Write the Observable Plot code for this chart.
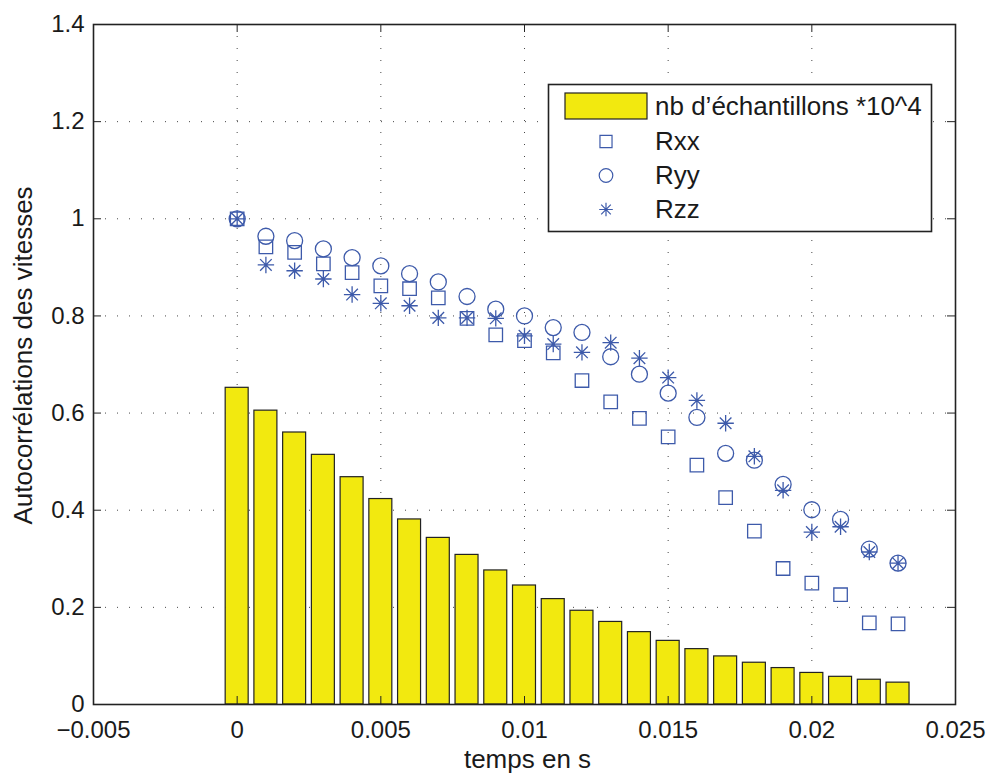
<!DOCTYPE html>
<html>
<head>
<meta charset="utf-8">
<script src="https://cdn.jsdelivr.net/npm/d3@7"></script>
<script src="https://cdn.jsdelivr.net/npm/@observablehq/plot@0.6"></script>
<style>
  html, body { margin: 0; padding: 0; background: #fff; }
  #wrap { position: relative; width: 990px; height: 773px; font-family: "Liberation Sans", Arial, Helvetica, sans-serif; color: #1a1a1a; }
  #legend { position: absolute; left: 0; top: 0; overflow: visible; }
</style>
</head>
<body>
<div id="wrap"></div>
<script>
// ---- data ----
const lags = [0, 0.001, 0.002, 0.003, 0.004, 0.005, 0.006, 0.007, 0.008, 0.009, 0.010, 0.011,
              0.012, 0.013, 0.014, 0.015, 0.016, 0.017, 0.018, 0.019, 0.020, 0.021, 0.022, 0.023];
const nbEchantillons = [0.652, 0.605, 0.560, 0.514, 0.468, 0.423, 0.381, 0.343, 0.308, 0.276, 0.245, 0.217,
                        0.193, 0.170, 0.149, 0.131, 0.114, 0.099, 0.086, 0.075, 0.065, 0.057, 0.051, 0.045];
const Rxx = [1.000, 0.942, 0.931, 0.907, 0.889, 0.862, 0.856, 0.837, 0.795, 0.761, 0.749, 0.724,
             0.667, 0.623, 0.589, 0.551, 0.493, 0.426, 0.357, 0.280, 0.250, 0.226, 0.168, 0.166];
const Ryy = [1.000, 0.964, 0.955, 0.938, 0.920, 0.903, 0.887, 0.870, 0.840, 0.814, 0.800, 0.776,
             0.766, 0.716, 0.680, 0.641, 0.591, 0.517, 0.503, 0.453, 0.401, 0.381, 0.320, 0.291];
const Rzz = [1.000, 0.905, 0.893, 0.876, 0.844, 0.826, 0.821, 0.796, 0.796, 0.795, 0.759, 0.742,
             0.725, 0.745, 0.713, 0.673, 0.626, 0.579, 0.511, 0.441, 0.355, 0.366, 0.314, 0.291];
const xTicks = [-0.005, 0, 0.005, 0.01, 0.015, 0.02, 0.025];
const yTicks = [0, 0.2, 0.4, 0.6, 0.8, 1, 1.2, 1.4];
const xLabel = "temps en s";
const yLabel = "Autocorrélations des vitesses";
const legendLabels = ["nb d\u2019échantillons *10^4", "Rxx", "Ryy", "Rzz"];

// ---- styles ----
const BLUE = "#3d5aaa";
const YELLOW = "#f2e90f";
const INK = "#222";
const FONT = '"Liberation Sans", Arial, Helvetica, sans-serif';
const W = 990, H = 773;
const mL = 93, mR = 35, mT = 24, mB = 69;
const frameW = W - mL - mR, frameH = H - mT - mB;
const tickLen = 8;
const barHalf = 0.0004; // bar width 0.8 of lag step

const barData = lags.map((t, i) => ({t, n: nbEchantillons[i]}));
const sData = (arr) => lags.map((t, i) => ({t, v: arr[i]}));

const asterisk = {
  draw(ctx, size) {
    const r = Math.sqrt(size / Math.PI);
    const d = r / Math.SQRT2;
    ctx.moveTo(-r, 0); ctx.lineTo(r, 0);
    ctx.moveTo(0, -r); ctx.lineTo(0, r);
    ctx.moveTo(-d, -d); ctx.lineTo(d, d);
    ctx.moveTo(-d, d); ctx.lineTo(d, -d);
  }
};

const fmtX = d => d === 0 ? "0" : (d < 0 ? "\u2212" + String(-d) : String(d));
const fmtY = d => String(d);

const chart = Plot.plot({
  width: W, height: H,
  marginLeft: mL, marginRight: mR, marginTop: mT, marginBottom: mB,
  style: {fontFamily: FONT, fontSize: "24px", color: "#1a1a1a", background: "#fff"},
  x: {domain: [-0.005, 0.025]},
  y: {domain: [0, 1.4]},
  marks: [
    Plot.gridX(xTicks, {stroke: "#333", strokeOpacity: 0.9, strokeDasharray: "1,11", strokeWidth: 1}),
    Plot.gridY(yTicks, {stroke: "#333", strokeOpacity: 0.9, strokeDasharray: "1,11", strokeWidth: 1}),
    Plot.rectY(barData, {x1: d => d.t - barHalf, x2: d => d.t + barHalf, y1: 0, y2: "n", fill: YELLOW, stroke: INK, strokeWidth: 1.2}),
    Plot.dot(sData(Rxx), {x: "t", y: "v", symbol: "square", r: 7.6, fill: "none", stroke: BLUE, strokeWidth: 1.3}),
    Plot.dot(sData(Ryy), {x: "t", y: "v", symbol: "circle", r: 8, fill: "none", stroke: BLUE, strokeWidth: 1.3}),
    Plot.dot(sData(Rzz), {x: "t", y: "v", symbol: asterisk, r: 8.2, fill: "none", stroke: BLUE, strokeWidth: 1.3}),
    // inward ticks (box on)
    Plot.tickX(xTicks, {x: d => d, insetTop: frameH - tickLen, stroke: INK, strokeWidth: 1}),
    Plot.tickX(xTicks, {x: d => d, insetBottom: frameH - tickLen, stroke: INK, strokeWidth: 1}),
    Plot.tickY(yTicks, {y: d => d, insetRight: frameW - tickLen, stroke: INK, strokeWidth: 1}),
    Plot.tickY(yTicks, {y: d => d, insetLeft: frameW - tickLen, stroke: INK, strokeWidth: 1}),
    Plot.axisX({ticks: xTicks, tickFormat: fmtX, tickSize: 0, tickPadding: 16, fontSize: 24, label: null}),
    Plot.axisY({ticks: yTicks, tickFormat: fmtY, tickSize: 0, tickPadding: 9, fontSize: 24, label: null}),
    // axis titles
    Plot.text([xLabel], {text: d => d, frameAnchor: "bottom", textAnchor: "middle", lineAnchor: "middle", dy: 55, dx: 3, fontSize: 26, fill: "#1a1a1a"}),
    Plot.text([yLabel], {text: d => d, frameAnchor: "left", textAnchor: "middle", lineAnchor: "middle", rotate: -90, dx: -70, dy: -9, fontSize: 26, fill: "#1a1a1a"}),
    Plot.frame({stroke: INK, strokeWidth: 1.6})
  ]
});

const wrap = document.getElementById("wrap");
wrap.appendChild(chart);

// ---- legend (overlay, drawn as SVG) ----
const lg = d3.select(wrap).append("svg").attr("id", "legend").attr("width", W).attr("height", H)
  .style("position", "absolute").style("left", "0px").style("top", "0px").style("pointer-events", "none");
lg.append("rect").attr("x", 548.5).attr("y", 84.5).attr("width", 383).attr("height", 147)
  .attr("fill", "#fff").attr("stroke", INK).attr("stroke-width", 1.6);
lg.append("rect").attr("x", 565).attr("y", 93).attr("width", 82).attr("height", 26)
  .attr("fill", YELLOW).attr("stroke", INK).attr("stroke-width", 1.2);
const baselines = [115, 150, 184, 218];
const symbols = [null, d3.symbolSquare, d3.symbolCircle, asterisk];
legendLabels.forEach((lab, i) => {
  lg.append("text").attr("x", 655).attr("y", baselines[i]).attr("font-family", FONT)
    .attr("font-size", 26).attr("fill", "#1a1a1a").text(lab);
  if (symbols[i]) {
    const rr = 6.8;
    lg.append("path").attr("d", d3.symbol(symbols[i], rr * rr * Math.PI)())
      .attr("transform", `translate(606,${baselines[i] - 8.5})`)
      .attr("fill", "none").attr("stroke", BLUE).attr("stroke-width", 1.2);
  }
});
</script>
</body>
</html>
